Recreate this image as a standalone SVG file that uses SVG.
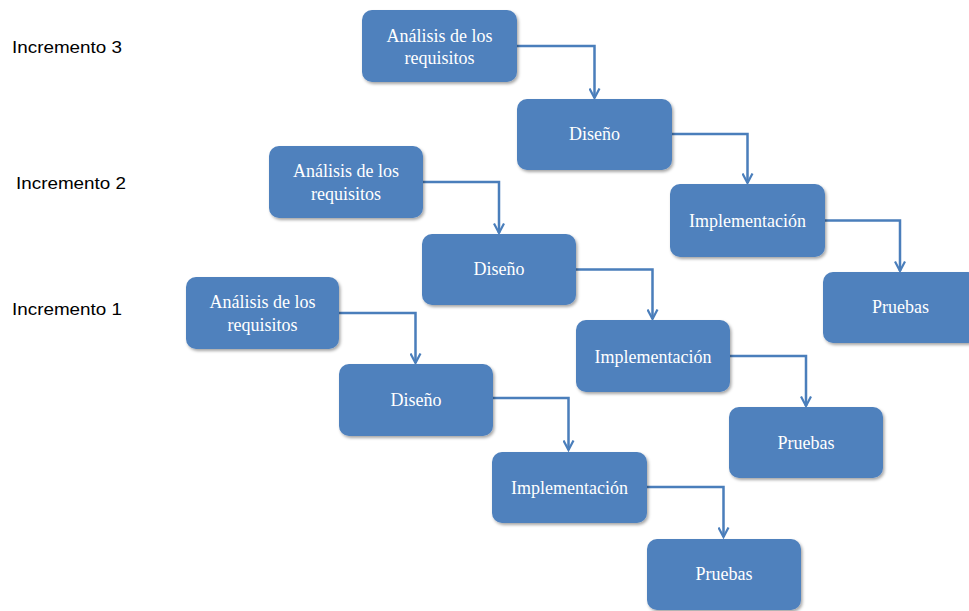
<svg xmlns="http://www.w3.org/2000/svg" width="969" height="611" viewBox="0 0 969 611">
  <defs>
    <filter id="shadow" x="-10%" y="-10%" width="125%" height="130%">
      <feDropShadow dx="1.5" dy="2" stdDeviation="1.6" flood-color="#000" flood-opacity="0.35"/>
    </filter>
    <marker id="arrow" viewBox="0 0 12 12" refX="10.5" refY="6" markerWidth="12" markerHeight="12" markerUnits="userSpaceOnUse" orient="auto">
      <path d="M1,1 L10.5,6 L1,11" fill="none" stroke="#4a7ebb" stroke-width="2.2"/>
    </marker>
    <style>
      .box { fill: #4f81bd; filter: url(#shadow); }
      .lbl { font-family: "Liberation Serif", "Times New Roman", serif; font-size: 18px; fill: #ffffff; text-anchor: middle; }
      .inc { font-family: "Liberation Sans", Arial, sans-serif; font-size: 17px; fill: #000000; }
      .conn { fill: none; stroke: #4a7ebb; stroke-width: 2.5; marker-end: url(#arrow); }
    </style>
  </defs>
  <rect width="969" height="611" fill="#ffffff"/>

  <!-- increment labels -->
  <g id="labels">
    <text class="inc" x="12" y="53" textLength="110" lengthAdjust="spacingAndGlyphs">Incremento 3</text>
    <text class="inc" x="16" y="189" textLength="110" lengthAdjust="spacingAndGlyphs">Incremento 2</text>
    <text class="inc" x="12" y="315" textLength="110" lengthAdjust="spacingAndGlyphs">Incremento 1</text>
  </g>

  <!-- connectors -->
  <g id="connectors">
    <path class="conn" d="M517,46 H594.5 V98"/>
    <path class="conn" d="M672,134 H747.5 V183"/>
    <path class="conn" d="M825,220.5 H900 V271"/>
    <path class="conn" d="M422,182 H499 V233"/>
    <path class="conn" d="M576,269.5 H652.5 V319"/>
    <path class="conn" d="M730,356 H806 V406"/>
    <path class="conn" d="M339,313 H415.5 V363"/>
    <path class="conn" d="M493,398 H568.5 V450"/>
    <path class="conn" d="M646,487 H723.5 V537"/>
  </g>

  <!-- Incremento 3 -->
  <g id="inc3-analisis">
    <rect class="box" x="362" y="10" width="155" height="72" rx="10"/>
    <text class="lbl" x="439.5" y="42">Análisis de los</text>
    <text class="lbl" x="439.5" y="64">requisitos</text>
  </g>
  <g id="inc3-diseno">
    <rect class="box" x="517" y="99" width="155" height="71" rx="10"/>
    <text class="lbl" x="594.5" y="140">Diseño</text>
  </g>
  <g id="inc3-implementacion">
    <rect class="box" x="670" y="184" width="155" height="73" rx="10"/>
    <text class="lbl" x="747.5" y="227">Implementación</text>
  </g>
  <g id="inc3-pruebas">
    <rect class="box" x="823" y="272" width="155" height="71" rx="10"/>
    <text class="lbl" x="900.5" y="313">Pruebas</text>
  </g>

  <!-- Incremento 2 -->
  <g id="inc2-analisis">
    <rect class="box" x="269" y="146" width="154" height="72" rx="10"/>
    <text class="lbl" x="346" y="177">Análisis de los</text>
    <text class="lbl" x="346" y="200">requisitos</text>
  </g>
  <g id="inc2-diseno">
    <rect class="box" x="422" y="234" width="154" height="71" rx="10"/>
    <text class="lbl" x="499" y="275">Diseño</text>
  </g>
  <g id="inc2-implementacion">
    <rect class="box" x="576" y="320" width="154" height="72" rx="10"/>
    <text class="lbl" x="653" y="363">Implementación</text>
  </g>
  <g id="inc2-pruebas">
    <rect class="box" x="729" y="407" width="154" height="71" rx="10"/>
    <text class="lbl" x="806" y="449">Pruebas</text>
  </g>

  <!-- Incremento 1 -->
  <g id="inc1-analisis">
    <rect class="box" x="186" y="277" width="153" height="72" rx="10"/>
    <text class="lbl" x="262.5" y="308">Análisis de los</text>
    <text class="lbl" x="262.5" y="331">requisitos</text>
  </g>
  <g id="inc1-diseno">
    <rect class="box" x="339" y="364" width="154" height="72" rx="10"/>
    <text class="lbl" x="416" y="406">Diseño</text>
  </g>
  <g id="inc1-implementacion">
    <rect class="box" x="492" y="452" width="155" height="71" rx="10"/>
    <text class="lbl" x="569.5" y="494">Implementación</text>
  </g>
  <g id="inc1-pruebas">
    <rect class="box" x="647" y="539" width="154" height="71" rx="10"/>
    <text class="lbl" x="724" y="580">Pruebas</text>
  </g>
</svg>
